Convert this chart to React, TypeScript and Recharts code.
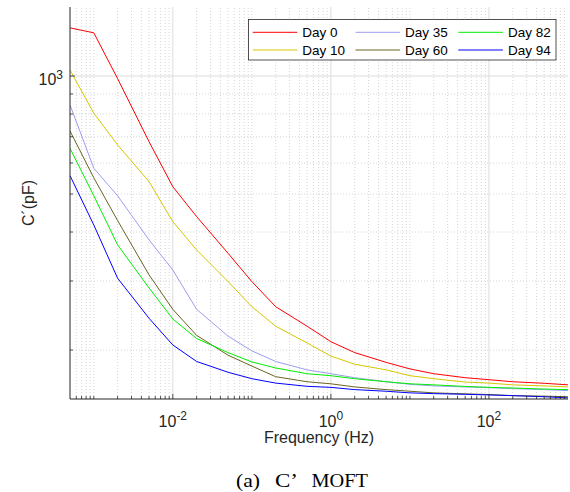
import React from 'react'
import { LineChart, Line, XAxis, YAxis, ReferenceLine } from 'recharts'

// frequency (Hz) and capacitance C' (pF) per day
const freq = [0.0005, 0.001, 0.002, 0.005, 0.01, 0.02, 0.05, 0.1, 0.2, 0.5, 1, 2, 5, 10, 20, 50, 100, 200, 500, 1000]
const day0 = [1327, 1289, 985, 680, 522, 438, 353, 299, 258, 230, 210, 197, 186, 179, 174, 170, 168, 166, 164.5, 163]
const day10 = [1036, 804, 667, 538, 425, 360, 299, 258, 230, 208.5, 193, 184, 178, 172, 169, 165.7, 164.7, 163, 162, 161]
const day35 = [844, 582, 495, 382, 320, 254, 217, 199, 187, 178, 174, 170, 166, 163.5, 162, 161, 160.3, 159.4, 158.5, 157.6]
const day60 = [724, 550, 428, 311, 254, 218, 194, 182, 171, 166, 164, 161, 158.5, 157, 155.5, 154.6, 154, 153, 152.5, 152]
const day82 = [654, 495, 371, 288, 240, 214, 197, 186.5, 180, 174, 172, 169, 166, 164, 163, 161.5, 160.6, 160, 159, 158.5]
const day94 = [557, 417, 305, 241, 206, 187, 175.5, 169, 164.7, 161.6, 160.6, 158.5, 157, 155.5, 154.8, 154.2, 153.6, 153, 152, 151]

const seriesNames = ['Day 0', 'Day 10', 'Day 35', 'Day 60', 'Day 82', 'Day 94']
const seriesValues = [day0, day10, day35, day60, day82, day94]
const seriesColors = ['#ff0000', '#d6c700', '#9d9df0', '#6a6420', '#00ee00', '#0000ff']

const xMajor = [0.01, 1, 100]
const xMajorLabels = ['-2', '0', '2']
const yMajor = [1000]
const yMajorLabels = ['3']

const X_DOMAIN = [0.0005, 1000]
const Y_DOMAIN = [150, 1500]

const AXIS = '#262626'
const FONT = '"Liberation Sans", Arial, Helvetica, sans-serif'
const SERIF = '"Liberation Serif", "Times New Roman", serif'

// every 1..9 x 10^n value strictly inside the range
function logTicks(lo: number, hi: number) {
  const out: number[] = []
  for (let d = Math.floor(Math.log10(lo)); d <= Math.ceil(Math.log10(hi)); d++) {
    for (let k = 1; k <= 9; k++) {
      const v = +(k * Math.pow(10, d)).toPrecision(6)
      if (v > lo * 1.0001 && v < hi * 0.9999) out.push(v)
    }
  }
  return out
}

const near = (a: number, b: number) => Math.abs(a - b) < b * 1e-6
const majorIndex = (list: number[], v: number) => list.findIndex(m => near(v, m))

const xTicks = logTicks(X_DOMAIN[0], X_DOMAIN[1])
const yTicks = logTicks(Y_DOMAIN[0], Y_DOMAIN[1])
const xMinor = xTicks.filter(v => majorIndex(xMajor, v) < 0)
const yMinor = yTicks.filter(v => majorIndex(yMajor, v) < 0)

const data = freq.map((f, i) => {
  const row: any = { f }
  seriesNames.forEach((_, s) => { row['s' + s] = seriesValues[s][i] })
  return row
})

const BottomTick = (p: any) => {
  const i = majorIndex(xMajor, p.payload.value)
  return (
    <g>
      <line x1={p.x} x2={p.x} y1={p.y} y2={p.y - (i >= 0 ? 5 : 3)} stroke={AXIS} strokeWidth={0.8} />
      {i >= 0 && (
        <text x={p.x} y={p.y + 28} textAnchor="middle" fontFamily={FONT} fontSize={16} fill={AXIS}>
          10<tspan dy={-7} fontSize={12}>{xMajorLabels[i]}</tspan>
        </text>
      )}
    </g>
  )
}

const TopTick = (p: any) => {
  const i = majorIndex(xMajor, p.payload.value)
  return <line x1={p.x} x2={p.x} y1={p.y} y2={p.y + (i >= 0 ? 5 : 3)} stroke={AXIS} strokeWidth={0.8} />
}

const LeftTick = (p: any) => {
  const i = majorIndex(yMajor, p.payload.value)
  return (
    <g>
      <line x1={p.x} x2={p.x + (i >= 0 ? 5 : 3)} y1={p.y} y2={p.y} stroke={AXIS} strokeWidth={0.8} />
      {i >= 0 && (
        <text x={p.x - 7} y={p.y + 9} textAnchor="end" fontFamily={FONT} fontSize={16} fill={AXIS}>
          10<tspan dy={-6} fontSize={12}>{yMajorLabels[i]}</tspan>
        </text>
      )}
    </g>
  )
}

const RightTick = (p: any) => {
  const i = majorIndex(yMajor, p.payload.value)
  return <line x1={p.x} x2={p.x - (i >= 0 ? 5 : 3)} y1={p.y} y2={p.y} stroke={AXIS} strokeWidth={0.8} />
}

export default function App() {
  return (
    <div style={{ position: 'absolute', left: 0, top: 0, width: 570, height: 492, background: '#fff' }}>
      <LineChart width={570} height={492} data={data} margin={{ top: 7, right: 2, bottom: 0, left: 0 }}>
        <XAxis xAxisId="b" dataKey="f" type="number" scale="log" domain={X_DOMAIN} allowDataOverflow
          ticks={xTicks} interval={0} height={93} tickSize={0} tickMargin={0} tickLine={false}
          axisLine={{ stroke: AXIS }} tick={(p: any) => <BottomTick {...p} />} />
        <XAxis xAxisId="t" orientation="top" dataKey="f" type="number" scale="log" domain={X_DOMAIN} allowDataOverflow
          ticks={xTicks} interval={0} height={0} tickSize={0} tickMargin={0} tickLine={false}
          axisLine={{ stroke: AXIS }} tick={(p: any) => <TopTick {...p} />} />
        <YAxis yAxisId="l" type="number" scale="log" domain={Y_DOMAIN} allowDataOverflow
          ticks={yTicks} interval={0} width={70} tickSize={0} tickMargin={0} tickLine={false}
          axisLine={{ stroke: AXIS }} tick={(p: any) => <LeftTick {...p} />} />
        <YAxis yAxisId="r" orientation="right" type="number" scale="log" domain={Y_DOMAIN} allowDataOverflow
          ticks={yTicks} interval={0} width={0} tickSize={0} tickMargin={0} tickLine={false}
          axisLine={{ stroke: AXIS }} tick={(p: any) => <RightTick {...p} />} />

        {xMinor.map(v => (
          <ReferenceLine key={'xm' + v} x={v} xAxisId="b" yAxisId="l" stroke="#d6d6d6" strokeDasharray="1 2" />
        ))}
        {yMinor.map(v => (
          <ReferenceLine key={'ym' + v} y={v} xAxisId="b" yAxisId="l" stroke="#d6d6d6" strokeDasharray="1 2" />
        ))}
        {xMajor.map(v => (
          <ReferenceLine key={'xM' + v} x={v} xAxisId="b" yAxisId="l" stroke="#dcdcdc" />
        ))}
        {yMajor.map(v => (
          <ReferenceLine key={'yM' + v} y={v} xAxisId="b" yAxisId="l" stroke="#dcdcdc" />
        ))}

        {seriesNames.map((name, s) => (
          <Line key={name} name={name} xAxisId="b" yAxisId="l" dataKey={'s' + s} type="linear"
            stroke={seriesColors[s]} strokeWidth={1} dot={false} isAnimationActive={false} />
        ))}
      </LineChart>

      <svg width={570} height={492} style={{ position: 'absolute', left: 0, top: 0, pointerEvents: 'none' }}>
        <rect x={248.5} y={19.5} width={307.5} height={40.5} fill="#fff" stroke={AXIS} strokeWidth={0.8} />
        {seriesNames.map((name, s) => {
          const cx = 252.7 + Math.floor(s / 2) * 102.8
          const cy = 32.3 + (s % 2) * 17.7
          return (
            <g key={name}>
              <line x1={cx} x2={cx + 44.6} y1={cy} y2={cy} stroke={seriesColors[s]} strokeWidth={1} />
              <text x={cx + 49.6} y={cy + 4.8} fontFamily={FONT} fontSize={13.5} fill="#000">{name}</text>
            </g>
          )
        })}
        <text x={319} y={443} textAnchor="middle" fontFamily={FONT} fontSize={16} fill={AXIS}>Frequency (Hz)</text>
        <text x={34} y={203} transform="rotate(-90 34 203)" textAnchor="middle" fontFamily={FONT} fontSize={16} fill={AXIS}>C´(pF)</text>
        <text y={487} fontFamily={SERIF} fontSize={19} fill="#000">
          <tspan x={236} textLength={24} lengthAdjust="spacingAndGlyphs">(a)</tspan>
          <tspan x={275} textLength={23} lengthAdjust="spacingAndGlyphs">C’</tspan>
          <tspan x={311.5} textLength={56.5} lengthAdjust="spacingAndGlyphs">MOFT</tspan>
        </text>
      </svg>
    </div>
  )
}
